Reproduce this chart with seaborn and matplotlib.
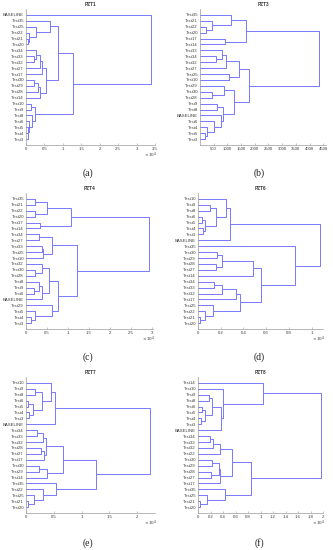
import pandas as pd
import matplotlib
matplotlib.use("Agg")
import matplotlib.pyplot as plt
import seaborn as sns

# ---- data: leaf order (top to bottom) and merges (a, b, height) ----
# a/b is a leaf name or the index of an earlier merge
pzt1_labels = ['BASELINE', 'Test35', 'Test25', 'Test22', 'Test21', 'Test20', 'Test34', 'Test33',
               'Test32', 'Test27', 'Test17', 'Test30', 'Test29', 'Test28', 'Test14', 'Test10',
               'Test9', 'Test8', 'Test6', 'Test5', 'Test4', 'Test3']
pzt1_merges = [('Test21', 'Test20', 0.06), ('Test22', 0, 0.09), ('Test25', 1, 0.28), ('Test35', 2, 0.64),
               ('Test33', 'Test32', 0.22), ('Test34', 4, 0.26), (5, 'Test27', 0.37), (6, 'Test17', 0.43),
               ('Test30', 'Test29', 0.22), (8, 'Test28', 0.32), (9, 'Test14', 0.37), (7, 10, 0.54),
               (3, 11, 0.86), ('Test10', 'Test9', 0.13), ('Test4', 'Test3', 0.05), ('Test5', 14, 0.06),
               ('Test6', 15, 0.09), ('Test8', 16, 0.15), (13, 17, 0.24), (12, 18, 1.27),
               ('BASELINE', 19, 3.38)]

pzt3_labels = ['Test35', 'Test21', 'Test22', 'Test20', 'Test17', 'Test14', 'Test33', 'Test34',
               'Test32', 'Test27', 'Test25', 'Test10', 'Test29', 'Test30', 'Test28', 'Test9',
               'Test8', 'BASELINE', 'Test6', 'Test4', 'Test5', 'Test3']
pzt3_merges = [('Test22', 'Test20', 221), ('Test21', 0, 443), ('Test35', 1, 1120), ('Test17', 'Test14', 911),
               (2, 3, 1674), ('Test34', 'Test32', 566), ('Test33', 5, 788), (6, 'Test27', 935),
               ('Test25', 'Test10', 1058), (7, 8, 1428), ('Test30', 'Test28', 443), ('Test29', 10, 874),
               ('Test9', 'Test8', 628), ('Test5', 'Test3', 172), ('Test4', 13, 271), ('Test6', 14, 505),
               ('BASELINE', 15, 751), (12, 16, 830), (11, 17, 1243), (9, 18, 1797), (4, 19, 4345)]

pzt4_labels = ['Test35', 'Test21', 'Test22', 'Test20', 'Test17', 'Test14', 'Test34', 'Test27',
               'Test33', 'Test25', 'Test10', 'Test32', 'Test30', 'Test28', 'Test8', 'Test9',
               'Test6', 'BASELINE', 'Test29', 'Test5', 'Test4', 'Test3']
pzt4_merges = [('Test35', 'Test21', 0.22), ('Test22', 'Test20', 0.22), (0, 1, 0.49), ('Test17', 'Test14', 0.33),
               (2, 3, 1.07), ('Test34', 'Test27', 0.30), ('Test33', 'Test25', 0.38), (6, 'Test10', 0.41),
               (5, 7, 0.63), ('Test30', 'Test28', 0.22), ('Test32', 9, 0.38), ('Test9', 'Test6', 0.20),
               ('Test8', 11, 0.32), (12, 'BASELINE', 0.38), (10, 13, 0.54), ('Test4', 'Test3', 0.11),
               ('Test5', 15, 0.22), ('Test29', 16, 0.61), (14, 17, 0.76), (8, 18, 1.21), (4, 19, 2.94)]

pzt6_labels = ['Test10', 'Test9', 'Test8', 'Test6', 'Test5', 'Test4', 'Test3', 'BASELINE',
               'Test35', 'Test30', 'Test29', 'Test28', 'Test27', 'Test14', 'Test34', 'Test33',
               'Test32', 'Test17', 'Test25', 'Test22', 'Test21', 'Test20']
pzt6_merges = [('Test9', 'Test8', 0.106), ('Test6', 'Test5', 0.035), ('Test4', 'Test3', 0.045), (1, 2, 0.065),
               (0, 3, 0.16), ('Test10', 4, 0.25), (5, 'BASELINE', 0.28), ('Test30', 'Test29', 0.165),
               ('Test28', 'Test27', 0.16), (7, 8, 0.215), (9, 'Test14', 0.485), ('Test34', 'Test33', 0.14),
               (11, 'Test32', 0.21), (12, 'Test17', 0.33), ('Test21', 'Test20', 0.018), ('Test22', 14, 0.06),
               ('Test25', 15, 0.135), (13, 16, 0.37), (10, 17, 0.55), ('Test35', 18, 0.85), (6, 19, 1.07)]

pzt7_labels = ['Test10', 'Test9', 'Test8', 'Test6', 'Test5', 'Test4', 'Test3', 'BASELINE',
               'Test34', 'Test33', 'Test32', 'Test28', 'Test27', 'Test17', 'Test30', 'Test29',
               'Test14', 'Test35', 'Test22', 'Test25', 'Test21', 'Test20']
pzt7_merges = [('Test9', 'Test8', 0.16), ('Test6', 'Test5', 0.04), ('Test4', 'Test3', 0.06), (1, 2, 0.13),
               (0, 3, 0.29), ('Test10', 4, 0.45), (5, 'BASELINE', 0.53), ('Test34', 'Test33', 0.19),
               (7, 'Test32', 0.31), ('Test28', 'Test27', 0.27), (9, 'Test17', 0.33), (8, 10, 0.36),
               ('Test30', 'Test29', 0.24), (12, 'Test14', 0.37), (11, 13, 0.67), ('Test21', 'Test20', 0.03),
               ('Test25', 15, 0.14), ('Test22', 16, 0.30), ('Test35', 17, 0.54), (14, 18, 1.25), (6, 19, 2.23)]

pzt8_labels = ['Test14', 'Test10', 'Test9', 'Test8', 'Test6', 'Test5', 'Test4', 'Test3',
               'BASELINE', 'Test34', 'Test33', 'Test32', 'Test22', 'Test30', 'Test29', 'Test28',
               'Test27', 'Test17', 'Test35', 'Test25', 'Test21', 'Test20']
pzt8_merges = [('Test9', 'Test8', 0.18), ('Test6', 'Test5', 0.07), ('Test4', 'Test3', 0.05), (1, 2, 0.11),
               (0, 3, 0.23), (4, 'BASELINE', 0.36), ('Test10', 5, 0.40), ('Test14', 6, 1.045),
               ('Test34', 'Test33', 0.19), (8, 'Test32', 0.24), (9, 'Test22', 0.35), ('Test30', 'Test29', 0.22),
               ('Test28', 'Test27', 0.20), (11, 12, 0.34), (13, 'Test17', 0.35), (10, 14, 0.55),
               ('Test21', 'Test20', 0.03), ('Test25', 16, 0.15), ('Test35', 17, 0.43), (15, 18, 0.84),
               (7, 19, 1.96)]

titles = ['PZT1', 'PZT3', 'PZT4', 'PZT6', 'PZT7', 'PZT8']
captions = ['(a)', '(b)', '(c)', '(d)', '(e)', '(f)']
xmax = [3.5, 4600, 3.03, 1.1, 2.32, 2.0]
xticks = [[0, 0.5, 1, 1.5, 2, 2.5, 3, 3.5],
          [500, 1000, 1500, 2000, 2500, 3000, 3500, 4000, 4500],
          [0, 0.5, 1, 1.5, 2, 2.5, 3],
          [0, 0.2, 0.4, 0.6, 0.8, 1],
          [0, 0.5, 1, 1.5, 2],
          [0, 0.2, 0.4, 0.6, 0.8, 1, 1.2, 1.4, 1.6, 1.8, 2]]
has_exp = [True, False, True, True, True, True]

panels = [(pzt1_labels, pzt1_merges), (pzt3_labels, pzt3_merges), (pzt4_labels, pzt4_merges),
          (pzt6_labels, pzt6_merges), (pzt7_labels, pzt7_merges), (pzt8_labels, pzt8_merges)]

# layout in pixels: (left, right, top, bottom)
W, H = 333, 550
boxes = [(26, 155, 9, 145), (200, 326, 9, 145),
         (26, 153, 193, 329), (198, 323, 193, 329),
         (26, 155, 377, 513), (198, 323, 377, 513)]
caption_pos = [(88, 173), (259, 173), (88, 357), (259, 357), (88, 543), (259, 543)]


def segments(labels, merges):
    ypos = {lab: i + 1 for i, lab in enumerate(labels)}
    node_y, node_h, rows = [], [], []

    def get(n):
        if isinstance(n, str):
            return ypos[n], 0.0
        return node_y[n], node_h[n]

    for k, (a, b, h) in enumerate(merges):
        ya, ha = get(a)
        yb, hb = get(b)
        rows += [(k, ha, ya), (k, h, ya), (k, h, yb), (k, hb, yb)]
        node_y.append((ya + yb) / 2)
        node_h.append(h)
    return pd.DataFrame(rows, columns=['link', 'height', 'leaf'])


sns.set_theme(style='white')
plt.rcParams['font.family'] = ['Liberation Sans', 'DejaVu Sans']
plt.rcParams['mathtext.fontset'] = 'dejavusans'

fig = plt.figure(figsize=(W / 100, H / 100), dpi=100)
line_c = '#7878ff'
axis_c = '#9a9a9a'

for i, (labels, merges) in enumerate(panels):
    l, r, t, b = boxes[i]
    ax = fig.add_axes([l / W, 1 - b / H, (r - l) / W, (b - t) / H])
    df = segments(labels, merges)
    sns.lineplot(data=df, x='height', y='leaf', units='link', estimator=None, sort=False,
                 color=line_c, lw=0.7, ax=ax, legend=False)
    n = len(labels)
    ax.set_ylim(n + 1, 0)
    ax.set_xlim(0, xmax[i])
    ax.set_yticks(range(1, n + 1))
    ax.set_yticklabels(labels)
    ax.set_xticks(xticks[i])
    ax.set_xticklabels([f'{v:g}' for v in xticks[i]])
    ax.set_xlabel('')
    ax.set_ylabel('')
    ax.tick_params(axis='both', labelsize=3.1, colors='#444444', direction='in',
                   length=1.5, width=0.4, pad=1.5, left=True, bottom=True)
    ax.tick_params(axis='both', colors=axis_c, labelcolor='#3a3a3a')
    sns.despine(ax=ax)
    for s in ['left', 'bottom']:
        ax.spines[s].set_color(axis_c)
        ax.spines[s].set_linewidth(0.5)
    ax.set_title(titles[i], fontsize=3.4, fontweight='bold', pad=2, color='#333333')
    if has_exp[i]:
        fig.text((r + 2) / W, 1 - (b + 10) / H, r'$\times\,10^{4}$', fontsize=3.1,
                 ha='right', va='center', color='#3a3a3a')
    cx, cy = caption_pos[i]
    fig.text(cx / W, 1 - cy / H, captions[i], fontsize=7, ha='center', va='center',
             family=['Liberation Serif', 'DejaVu Serif'], color='#222222')

fig.savefig('out.png', dpi=100)
